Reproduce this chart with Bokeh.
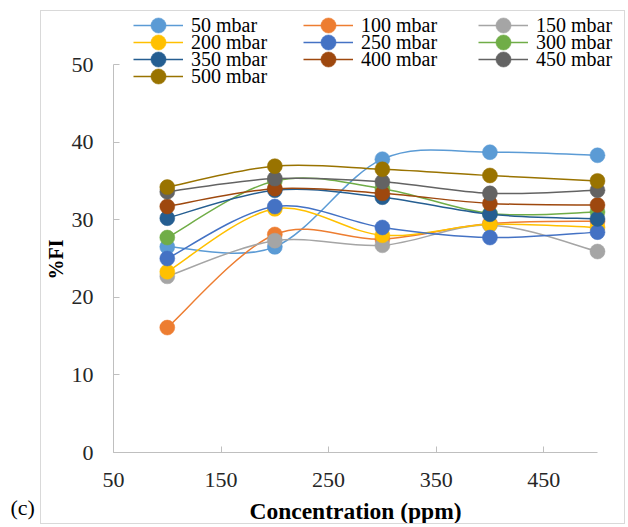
from bokeh.plotting import figure
from bokeh.models import Range1d, FixedTicker, Legend, LegendItem, Label, InlineStyleSheet
from bokeh.embed import file_html
from bokeh.resources import INLINE
import math

# ---- data ----
concentration = [100, 200, 300, 400, 500]
series_labels = ["50 mbar", "100 mbar", "150 mbar", "200 mbar", "250 mbar",
                 "300 mbar", "350 mbar", "400 mbar", "450 mbar", "500 mbar"]
fi_50 = [26.5, 26.5, 37.8, 38.7, 38.3]
fi_100 = [16.1, 28.1, 27.5, 29.5, 29.8]
fi_150 = [22.7, 27.3, 26.7, 29.3, 25.9]
fi_200 = [23.3, 31.4, 28.0, 29.4, 29.0]
fi_250 = [25.0, 31.7, 29.0, 27.7, 28.4]
fi_300 = [27.7, 35.0, 34.0, 30.8, 31.0]
fi_350 = [30.2, 33.8, 32.9, 30.7, 30.1]
fi_400 = [31.7, 34.0, 33.4, 32.1, 31.9]
fi_450 = [33.6, 35.3, 34.9, 33.4, 33.8]
fi_500 = [34.2, 36.9, 36.5, 35.7, 35.0]
x_tick_values = [50, 150, 250, 350, 450]
x_axis_end = 500
y_tick_values = [0, 10, 20, 30, 40, 50]

all_series = [fi_50, fi_100, fi_150, fi_200, fi_250, fi_300, fi_350, fi_400, fi_450, fi_500]
colors = ["#5B9BD5", "#ED7D31", "#A5A5A5", "#FFC000", "#4472C4",
          "#70AD47", "#255E91", "#9E480E", "#636363", "#997300"]

SERIF = "Liberation Serif"

css = InlineStyleSheet(css="""
:host::after {
  content: "";
  position: absolute;
  left: 40px; top: 10px; width: 585px; height: 514px;
  border: 1px solid #D9D9D9;
  box-sizing: border-box;
  pointer-events: none;
}
""")

p = figure(width=628, height=527, x_range=Range1d(50, 521.4), y_range=Range1d(0, 58.25),
           output_backend="svg", toolbar_location=None,
           min_border_left=113, min_border_right=8, min_border_top=0, min_border_bottom=75,
           stylesheets=[css])
p.grid.visible = False
p.outline_line_color = None
p.background_fill_color = "white"
p.border_fill_color = "white"

for ax in (p.xaxis[0], p.yaxis[0]):
    ax.axis_line_color = "#BFBFBF"
    ax.major_tick_line_color = "#BFBFBF"
    ax.minor_tick_line_color = None
    ax.major_tick_in = 6
    ax.major_tick_out = 0
    ax.major_label_text_font = SERIF
    ax.major_label_text_font_size = "22px"
    ax.major_label_text_color = "#262626"

p.xaxis[0].ticker = FixedTicker(ticks=x_tick_values)
p.yaxis[0].ticker = FixedTicker(ticks=y_tick_values)
p.xaxis[0].bounds = (x_tick_values[0], x_axis_end)
p.yaxis[0].bounds = (y_tick_values[0], y_tick_values[-1])
p.xaxis[0].major_label_standoff = 20
p.yaxis[0].major_label_standoff = 20


def smooth_controls(xs, ys, t=1.0 / 6.0):
    n = len(xs)
    x0, y0, x1, y1, cx0, cy0, cx1, cy1 = [], [], [], [], [], [], [], []
    for i in range(n - 1):
        pm = i - 1 if i > 0 else i
        pn = i + 2 if i + 2 < n else i + 1
        x0.append(xs[i]); y0.append(ys[i])
        x1.append(xs[i + 1]); y1.append(ys[i + 1])
        cx0.append(xs[i] + (xs[i + 1] - xs[pm]) * t)
        cy0.append(ys[i] + (ys[i + 1] - ys[pm]) * t)
        cx1.append(xs[i + 1] - (xs[pn] - xs[i]) * t)
        cy1.append(ys[i + 1] - (ys[pn] - ys[i]) * t)
    return dict(x0=x0, y0=y0, x1=x1, y1=y1, cx0=cx0, cy0=cy0, cx1=cx1, cy1=cy1)


legend_items = []
for lab, ys, col in zip(series_labels, all_series, colors):
    d = smooth_controls(concentration, ys)
    bz = p.bezier(x0=d["x0"], y0=d["y0"], x1=d["x1"], y1=d["y1"],
                  cx0=d["cx0"], cy0=d["cy0"], cx1=d["cx1"], cy1=d["cy1"],
                  line_color=col, line_width=1.5)
    sc = p.scatter(concentration, ys, size=15, fill_color=col, line_color=col, line_width=0.5)
    legend_items.append(LegendItem(label=lab, renderers=[bz, sc]))

# legend laid out as 3 columns x 4 rows (one single-item legend per cell)
col_x = [20, 190, 365]
row_y = [408, 391, 374, 357]
for i, item in enumerate(legend_items):
    r, c = divmod(i, 3)
    lg = Legend(items=[item], location=(col_x[c], row_y[r]), orientation="vertical",
                glyph_width=50, glyph_height=38, spacing=0, label_standoff=8,
                padding=0, margin=0, border_line_color=None, background_fill_alpha=0,
                label_text_font=SERIF, label_text_font_size="20px", label_text_color="#000000")
    p.add_layout(lg)

p.add_layout(Label(x=9, y=193, x_units="screen", y_units="screen", text="%FI",
                   angle=math.pi / 2, text_align="center", text_baseline="middle",
                   text_font=SERIF, text_font_size="20px", text_font_style="bold",
                   text_color="#000000"), "left")
p.add_layout(Label(x=-12, y=-67, x_units="screen", y_units="screen", text="(c)",
                   text_font=SERIF, text_font_size="22px", text_color="#000000"), "left")
p.add_layout(Label(x=242, y=5, x_units="screen", y_units="screen", text="Concentration (ppm)",
                   text_align="center", text_baseline="middle",
                   text_font=SERIF, text_font_size="23.5px", text_font_style="bold",
                   text_color="#000000"), "below")

open("out.html", "w").write(file_html(p, INLINE))
